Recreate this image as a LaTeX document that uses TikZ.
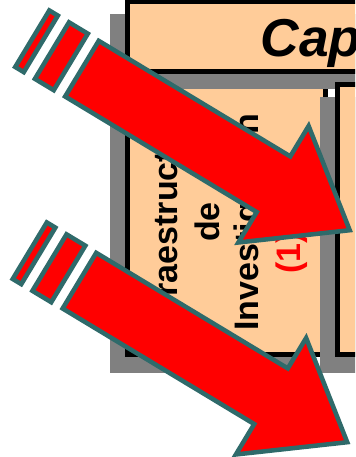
\documentclass[tikz,border=0pt]{standalone}
\usepackage{fontspec}
\setmainfont{Liberation Sans}
\definecolor{peach}{HTML}{FFCC99}
\definecolor{shadowgray}{HTML}{808080}
\definecolor{arrowedge}{HTML}{2F6A6A}
\begin{document}
\begin{tikzpicture}[x=0.75pt,y=-0.75pt,
  panel/.style={draw=black, line width=4.1pt, fill=peach},
  shade/.style={fill=shadowgray},
  bigarrow/.style={fill=red, draw=arrowedge, line width=3.4pt, line join=miter},
  vtext/.style={rotate=90, anchor=base, inner sep=0pt, font=\fontsize{25.5pt}{30pt}\selectfont\bfseries},
]
\useasboundingbox (0,0) rectangle (355,457);
\clip (0,0) rectangle (355,457);

% left column box
\fill[shade] (109.75,96.75) rectangle (313.25,373);
\draw[panel] (127.5,84.5) rectangle (325.5,354.5);
\node[vtext] (l1) at (177,218) {Infraestructura};
\node[vtext] (l2) at (219,222) {de};
\node[vtext] (l3) at (258,222) {Investigación};
\node[vtext, anchor=base west, text=red] (l4) at (300,274) {(1)};

% title box
\fill[shade] (109.75,13.75) rectangle (700,89.25);
\draw[panel] (127.5,1.5) rectangle (720,71.5);
\node[anchor=base west, inner sep=0pt, font=\fontsize{40pt}{44pt}\selectfont\bfseries\itshape] (title) at (260.5,56.5) {Cap};

% right column box
\fill[shade] (319.75,96.75) rectangle (700,373);
\draw[panel] (337.5,84.5) rectangle (720,354.5);

% upper striped arrow
\begin{scope}[shift={(80,67.5)}, rotate=-31.1]
  \draw[bigarrow] (-55.75,-33) -- (-45.75,-33) -- (-45.75,33) -- (-55.75,33) -- cycle;
  \draw[bigarrow] (-32.75,-33) -- (-10.75,-33) -- (-10.75,33) -- (-32.75,33) -- cycle;
  \draw[bigarrow] (2.25,-32.5) -- (226,-32.5) -- (226,-68) -- (315,0) -- (226,68) -- (226,32.5) -- (2.25,32.5) -- cycle;
\end{scope}

% lower striped arrow
\begin{scope}[shift={(77.5,279.5)}, rotate=-31.1]
  \draw[bigarrow] (-55.75,-33) -- (-45.75,-33) -- (-45.75,33) -- (-55.75,33) -- cycle;
  \draw[bigarrow] (-32.75,-33) -- (-10.75,-33) -- (-10.75,33) -- (-32.75,33) -- cycle;
  \draw[bigarrow] (2.25,-32.5) -- (226,-32.5) -- (226,-68) -- (315,0) -- (226,68) -- (226,32.5) -- (2.25,32.5) -- cycle;
\end{scope}
\end{tikzpicture}
\end{document}
